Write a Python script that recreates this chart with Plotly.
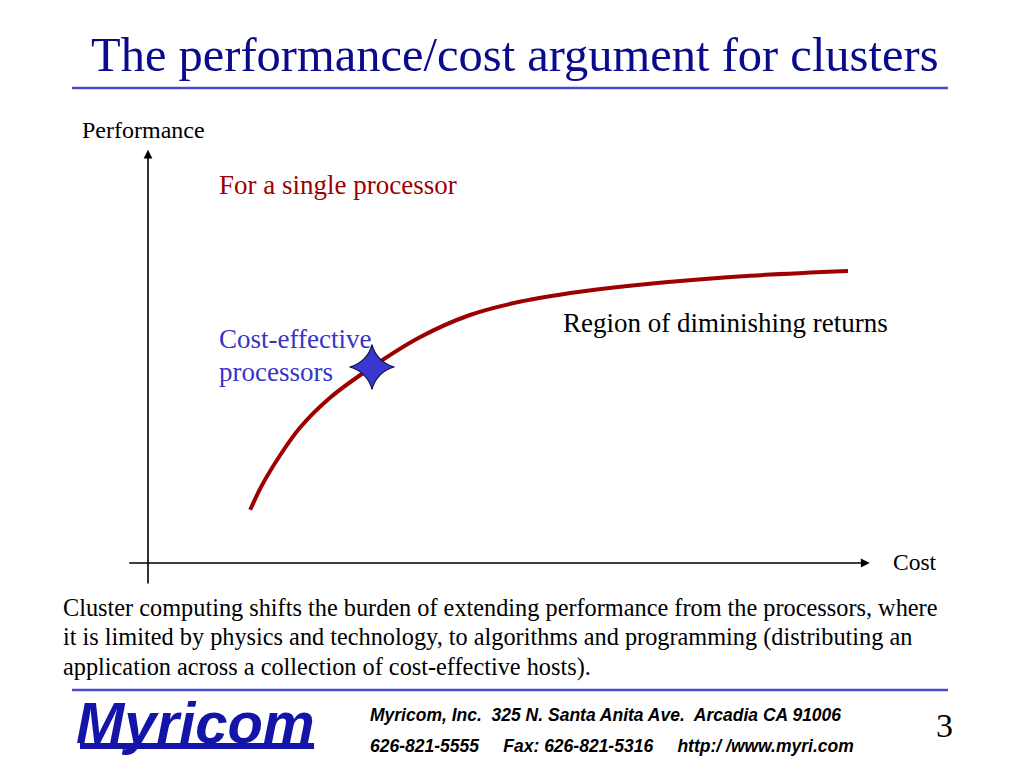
import plotly.graph_objects as go

# page body has an 8px margin; figure fills the rest of the 1023x780 window
OFF = 8
W, H = 1023 - OFF, 780 - OFF

# Curve data (cost vs performance, arbitrary units; origin at the axes crossing)
cost = [1.46, 1.63, 1.89, 2.17, 2.6, 3.2, 3.89, 4.6, 5.31, 6.17, 7.17, 8.6, 10.0]
performance = [1.33, 1.95, 2.7, 3.38, 4.13, 4.9, 5.65, 6.2, 6.53, 6.78, 6.98, 7.18, 7.3]

# Cost-effective point
star_cost = [3.2]
star_perf = [4.9]

# Axis extents (units)
x_axis_from, x_axis_to = -0.29, 10.31
y_axis_from, y_axis_to = -0.55, 10.33

# pixel<->unit scale for the chart area
PX_X, PX_Y = 70.0, 40.0
ORIGIN_PX = (148 - OFF, 563 - OFF)
x_range = [-ORIGIN_PX[0] / PX_X, (W - ORIGIN_PX[0]) / PX_X]
y_range = [-(H - ORIGIN_PX[1]) / PX_Y, ORIGIN_PX[1] / PX_Y]

SERIF = "Liberation Serif, Times New Roman, serif"
SANS = "Liberation Sans, Arial, sans-serif"
NAVY = "#0A0A8C"
LBLUE = "#3535C8"
RED = "#9C0000"

fig = go.Figure()

fig.add_trace(go.Scatter(
    x=cost, y=performance, mode="lines",
    line=dict(color=RED, width=4, shape="spline", smoothing=1.0),
    hoverinfo="skip", showlegend=False,
))
fig.add_trace(go.Scatter(
    x=star_cost, y=star_perf, mode="markers",
    marker=dict(symbol="star-diamond", size=32, color="#3838D0",
                line=dict(color="#10104A", width=1.2)),
    hoverinfo="skip", showlegend=False,
))

def px(xp):
    return (xp - OFF) / W

def py(yp):
    return 1 - (yp - OFF) / H

ann = []
# axes arrows
ann.append(dict(x=0, y=y_axis_to, ax=0, ay=y_axis_from, xref="x", yref="y", axref="x", ayref="y",
                showarrow=True, arrowhead=2, arrowsize=1.1, arrowwidth=1.6, arrowcolor="black", text=""))
ann.append(dict(x=x_axis_to, y=0, ax=x_axis_from, ay=0, xref="x", yref="y", axref="x", ayref="y",
                showarrow=True, arrowhead=2, arrowsize=1.1, arrowwidth=1.6, arrowcolor="black", text=""))

def txt(s, xp, yp, size, color="black", family=SERIF, xanchor="left", yanchor="middle"):
    ann.append(dict(text=s, x=px(xp), y=py(yp), xref="paper", yref="paper", showarrow=False,
                    xanchor=xanchor, yanchor=yanchor, borderpad=0,
                    xshift=-1 if xanchor == "left" else 0,
                    font=dict(family=family, size=size, color=color)))

txt("The performance/cost argument for clusters", 515, 55, 48.5, NAVY, xanchor="center")
txt("Performance", 82, 130, 24)
txt("For a single processor", 219, 185, 27, RED)
txt("Cost-effective", 219, 339, 27, LBLUE)
txt("processors", 219, 372, 27, LBLUE)
txt("Region of diminishing returns", 563, 323, 27)
txt("Cost", 893, 562, 23.5)
para = [
    "Cluster computing shifts the burden of extending performance from the processors, where",
    "it is limited by physics and technology, to algorithms and programming (distributing an",
    "application across a collection of cost-effective hosts).",
]
for i, line in enumerate(para):
    txt(line, 63, 607 + 30 * i, 24.3)

txt("<b><i>Myricom</i></b>", 76, 722, 58, "#1414A8", family=SANS)
txt("<b><i>Myricom, Inc.  325 N. Santa Anita Ave.  Arcadia CA 91006</i></b>", 370, 715, 17.5, family=SANS)
txt("<b><i>626-821-5555     Fax: 626-821-5316     http:/ /www.myri.com</i></b>", 370, 746, 17.5, family=SANS)
txt("3", 936, 725, 34)

shapes = [
    dict(type="line", xref="paper", yref="paper", x0=px(72), x1=px(948), y0=py(88), y1=py(88),
         line=dict(color="#4A4AD0", width=2.5)),
    dict(type="line", xref="paper", yref="paper", x0=px(72), x1=px(948), y0=py(690), y1=py(690),
         line=dict(color="#4A4AD0", width=2.5)),
    dict(type="rect", xref="paper", yref="paper", x0=px(80), x1=px(314), y0=py(749), y1=py(743),
         line=dict(width=0), fillcolor="#1414A8"),
]

fig.update_layout(
    width=W, height=H,
    margin=dict(l=0, r=0, t=0, b=0),
    paper_bgcolor="white", plot_bgcolor="white",
    xaxis=dict(range=x_range, visible=False, domain=[0, 1], fixedrange=True),
    yaxis=dict(range=y_range, visible=False, domain=[0, 1], fixedrange=True),
    annotations=ann, shapes=shapes, showlegend=False,
)

fig.write_html("out.html")
